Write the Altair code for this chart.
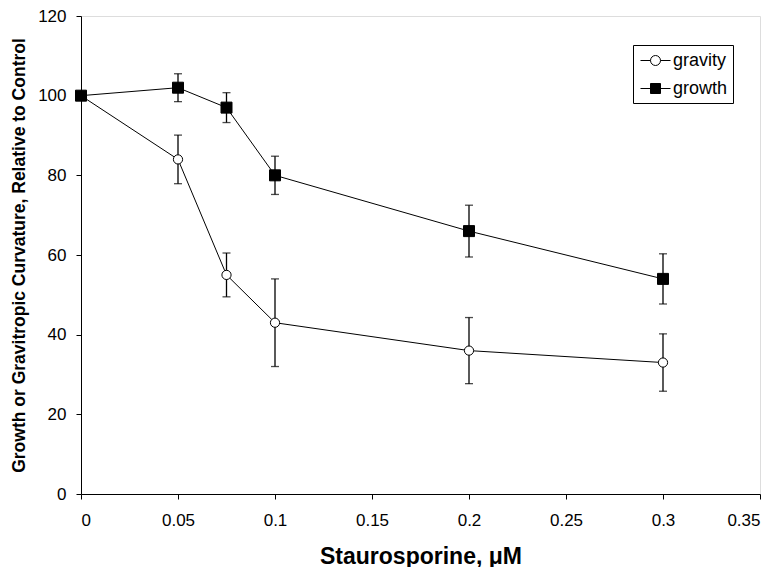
import altair as alt
import pandas as pd

# ---- data ----
conc = [0, 0.05, 0.075, 0.1, 0.2, 0.3]
gravity = [100, 84, 55, 43, 36, 33]
gravity_err = [0, 6.1, 5.5, 11, 8.3, 7.2]
growth = [100, 102, 97, 80, 66, 54]
growth_err = [0, 3.5, 3.75, 4.8, 6.5, 6.3]
series_names = ["gravity", "growth"]
x_ticks = [0, 0.05, 0.1, 0.15, 0.2, 0.25, 0.3, 0.35]
y_ticks = [0, 20, 40, 60, 80, 100, 120]

rows = []
for name, vals, errs in [("gravity", gravity, gravity_err), ("growth", growth, growth_err)]:
    for c, v, e in zip(conc, vals, errs):
        rows.append({"series": name, "conc": c, "value": v, "lo": v - e, "hi": v + e})
df = pd.DataFrame(rows)

FONT = "Liberation Sans"

x_enc = alt.X(
    "conc:Q",
    scale=alt.Scale(domain=[0, 0.35], nice=False),
    axis=alt.Axis(
        values=x_ticks, format="~g", title="Staurosporine, μM",
        titleFontSize=23, titleFontWeight="bold", titlePadding=17,
        labelFontSize=17, labelPadding=13, tickSize=5, grid=False,
        domainColor="black", tickColor="black", labelColor="black", titleColor="black",
        labelFont=FONT, titleFont=FONT,
    ),
)
y_enc = alt.Y(
    "value:Q",
    scale=alt.Scale(domain=[0, 120], nice=False),
    axis=alt.Axis(
        values=y_ticks, title="Growth or Gravitropic Curvature, Relative to Control",
        titleFontSize=17.5, titleFontWeight="bold", titlePadding=9,
        labelFontSize=17, labelPadding=10, tickSize=5, grid=False,
        domainColor="black", tickColor="black", labelColor="black", titleColor="black",
        labelFont=FONT, titleFont=FONT,
    ),
)

base = alt.Chart(df)

lines = base.mark_line(color="black", strokeWidth=1).encode(
    x=x_enc, y=y_enc, detail="series:N"
)

err_rule = base.mark_rule(color="black", strokeWidth=1.3).encode(
    x="conc:Q", y="lo:Q", y2="hi:Q"
).transform_filter("datum.hi > datum.lo")
err_lo = base.mark_tick(color="black", orient="horizontal", size=8, thickness=1.3).encode(
    x="conc:Q", y="lo:Q"
).transform_filter("datum.hi > datum.lo")
err_hi = base.mark_tick(color="black", orient="horizontal", size=8, thickness=1.3).encode(
    x="conc:Q", y="hi:Q"
).transform_filter("datum.hi > datum.lo")

points = base.mark_point(filled=True, stroke="black", strokeWidth=1, opacity=1).encode(
    x="conc:Q",
    y="value:Q",
    shape=alt.Shape("series:N", scale=alt.Scale(domain=series_names, range=["circle", "square"]), legend=None),
    fill=alt.Fill("series:N", scale=alt.Scale(domain=series_names, range=["white", "black"]), legend=None),
    size=alt.Size("series:N", scale=alt.Scale(domain=series_names, range=[85, 121]), legend=None),
)

gravity_sym = "M-1.5,0H-0.5M0.5,0H1.5M-0.5,0A0.5,0.5 0 1,0 0.5,0A0.5,0.5 0 1,0 -0.5,0Z"
growth_sym = "M-1.5,0H-0.5M0.5,0H1.5M-0.5,-0.5H0.5V0.5H-0.5Z"

leg = alt.Legend(
    title=None, orient="none", legendX=552, legendY=29,
    strokeColor="black", fillColor="white", padding=5,
    symbolSize=400, symbolStrokeWidth=1, labelFontSize=18, labelFont=FONT,
    labelColor="black", rowPadding=8, labelOffset=7, symbolOffset=7,
)
legend_layer = base.mark_point(filled=True, opacity=1).encode(
    shape=alt.Shape("series:N", scale=alt.Scale(domain=series_names, range=[gravity_sym, growth_sym]), legend=leg),
    fill=alt.Fill("series:N", scale=alt.Scale(domain=series_names, range=["white", "black"]), legend=leg),
    stroke=alt.Stroke("series:N", scale=alt.Scale(domain=series_names, range=["black", "black"]), legend=leg),
).transform_filter("false")

chart = alt.layer(lines, err_rule, err_lo, err_hi, points, legend_layer).resolve_scale(
    shape="independent", fill="independent", stroke="independent", size="independent"
).properties(
    width=679, height=478,
    autosize=alt.AutoSizeParams(type="none"),
    padding={"left": 73, "top": 8, "right": 10, "bottom": 73},
).configure_view(
    stroke="#a0a0a0", strokeWidth=1
).configure(background="white")

chart.save("out.html", embed_options={"renderer": "svg", "actions": False})
